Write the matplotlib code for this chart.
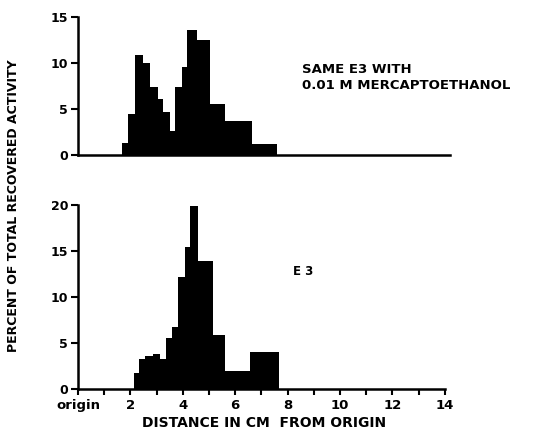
import matplotlib
matplotlib.use("Agg")
import matplotlib.pyplot as plt

# top panel: E3 with 0.01 M mercaptoethanol
top_edges = [1.67, 1.92, 2.18, 2.49, 2.75, 3.07, 3.26, 3.51, 3.70, 3.96, 4.15, 4.53, 5.04, 5.61, 6.63, 7.61]
top_pct = [1.3, 4.5, 10.8, 10.0, 7.4, 6.1, 4.7, 2.6, 7.4, 9.5, 13.6, 12.5, 5.5, 3.7, 1.2]

# bottom panel: E3
bot_edges = [2.14, 2.34, 2.56, 2.85, 3.13, 3.36, 3.58, 3.83, 4.08, 4.27, 4.59, 5.14, 5.61, 6.56, 7.68]
bot_pct = [1.7, 3.2, 3.6, 3.8, 3.2, 5.5, 6.7, 12.1, 15.4, 19.9, 13.9, 5.9, 2.0, 4.0]

top_yticks = [0, 5, 10, 15]
bot_yticks = [0, 5, 10, 15, 20]
xticks_minor = list(range(1, 15))
xticks_major = [0, 2, 4, 6, 8, 10, 12, 14]
xtick_labels = ["origin", "2", "4", "6", "8", "10", "12", "14"]

plt.rcParams['font.family'] = ['DejaVu Sans']
plt.rcParams['font.weight'] = 'bold'

fig = plt.figure(figsize=(5.34, 4.38), dpi=100)
ax1 = fig.add_axes([0.146, 0.646, 0.697, 0.32])
ax2 = fig.add_axes([0.146, 0.112, 0.697, 0.427])

for ax in (ax1, ax2):
    ax.spines['top'].set_visible(False)
    ax.spines['right'].set_visible(False)
    ax.spines['left'].set_linewidth(1.8)
    ax.spines['bottom'].set_linewidth(1.8)
    ax.set_xlim(0, 14.2)
    ax.tick_params(axis='y', direction='out', length=5, width=1.5, labelsize=9, pad=2)

ax1.stairs(top_pct, top_edges, fill=True, color='black')
ax1.set_ylim(0, 15.2)
ax1.set_yticks(top_yticks)
ax1.set_xticks([])
ax1.spines['left'].set_bounds(0, 15)
ax1.text(8.55, 8.4, "SAME E3 WITH\n0.01 M MERCAPTOETHANOL", fontsize=9.5,
         fontweight='bold', va='center', ha='left', linespacing=1.3)

ax2.stairs(bot_pct, bot_edges, fill=True, color='black')
ax2.set_ylim(0, 20.3)
ax2.set_yticks(bot_yticks)
ax2.spines['left'].set_bounds(0, 20)
ax2.spines['bottom'].set_bounds(0, 14)
ax2.set_xticks(xticks_minor, minor=True)
ax2.set_xticks(xticks_major)
ax2.set_xticklabels(xtick_labels)
ax2.tick_params(axis='x', which='both', direction='out', length=4, width=1.5,
                labelsize=9.5, pad=3)
ax2.text(8.2, 12.7, "E 3", fontsize=8.5, fontweight='bold', va='center', ha='left')
ax2.set_xlabel("DISTANCE IN CM  FROM ORIGIN", fontsize=10, fontweight='bold', labelpad=3)

fig.text(0.025, 0.53, "PERCENT OF TOTAL RECOVERED ACTIVITY", rotation=90,
         fontsize=9, fontweight='bold', va='center', ha='center')

fig.savefig("out.png", dpi=100)
